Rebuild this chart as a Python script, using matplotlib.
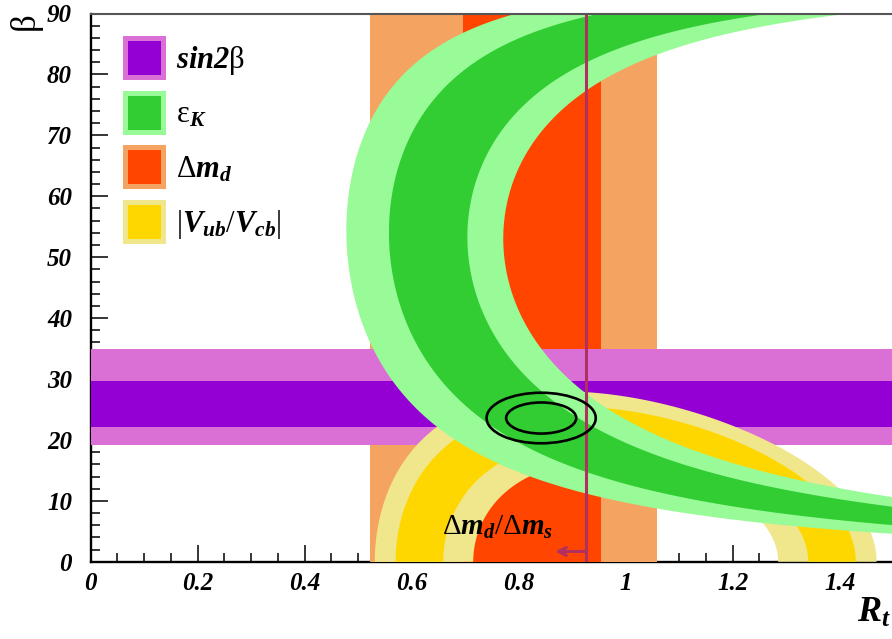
import numpy as np
import matplotlib.pyplot as plt
from matplotlib.patches import Rectangle, Ellipse
from matplotlib.ticker import MultipleLocator, FuncFormatter

plt.rcParams['mathtext.fontset'] = 'custom'
plt.rcParams['mathtext.rm'] = 'Liberation Serif'
plt.rcParams['mathtext.it'] = 'Liberation Serif:italic:bold'
plt.rcParams['mathtext.bf'] = 'Liberation Serif:bold'
plt.rcParams['mathtext.sf'] = 'Liberation Serif:italic:bold'

# constraint bands in the (R_t, beta) plane
dmd_outer = [0.522, 1.058]       # Delta m_d, R_t range
dmd_inner = [0.696, 0.954]
sin2b_outer = [19.2, 34.95]      # sin2beta, beta range (deg)
sin2b_inner = [22.2, 29.7]
vub_outer = [0.285, 0.469]       # |Vub/Vcb|, R_b range
vub_inner = [0.341, 0.430]
# eps_K boundaries: R_t sin(b) (a R_t cos(b) + 1) = c
epsk_c = [0.796, 0.952, 1.270, 1.419]
epsk_a = [3.77, 3.39, 2.97, 2.81]
dms_limit = 0.926                # Delta m_d / Delta m_s upper limit on R_t
fit_center = [0.842, 23.6]
fit_halfwidth = [0.102, 0.0655]
fit_halfheight = [4.15, 2.55]

legend_labels = [r'$\mathsf{sin2}\mathrm{\beta}$', r'$\mathrm{\varepsilon}_K$',
                 r'$\mathrm{\Delta}m_d$', r'$|V_{ub}/V_{cb}|$']
legend_colors = [('#da70d6', '#9400d3'), ('#98fb98', '#32cd32'),
                 ('#f4a460', '#ff4500'), ('#f0e68c', '#ffd700')]

maroon = '#b03060'
serif = 'Liberation Serif'

fig = plt.figure(figsize=(8.92, 6.39), dpi=100)
ax = fig.add_axes([90.7 / 892, 77.2 / 639, 802.5 / 892, 548.3 / 639])
ax.set_xlim(0, 1.5)
ax.set_ylim(0, 90)


def axfrac(xp, yp):
    # pixel position in the image -> axes fraction
    return (xp - 90.7) / 802.5, (561.8 - yp) / 548.3


def epsk_rt(beta, a, c):
    s = np.sin(np.radians(beta))
    k = a * s * np.cos(np.radians(beta))
    return 2 * c / (s + np.sqrt(s ** 2 + 4 * k * c))


def ring(r_lo, r_hi):
    th = np.linspace(0, np.pi, 400)
    rho = np.concatenate([r_hi * np.cos(th), r_lo * np.cos(th[::-1])])
    eta = np.concatenate([r_hi * np.sin(th), r_lo * np.sin(th[::-1])])
    rt = np.hypot(1 - rho, eta)
    beta = np.degrees(np.arctan2(eta, 1 - rho))
    return rt, beta


# Delta m_d
ax.axvspan(*dmd_outer, color=legend_colors[2][0], lw=0)
ax.axvspan(*dmd_inner, color=legend_colors[2][1], lw=0)
# sin2beta
ax.axhspan(*sin2b_outer, color=legend_colors[0][0], lw=0)
ax.axhspan(*sin2b_inner, color=legend_colors[0][1], lw=0)
# |Vub/Vcb|
ax.fill(*ring(*vub_outer), color=legend_colors[3][0], lw=0)
ax.fill(*ring(*vub_inner), color=legend_colors[3][1], lw=0)
# eps_K
bb = np.linspace(0.2, 90, 800)
ax.fill_betweenx(bb, epsk_rt(bb, epsk_a[0], epsk_c[0]), epsk_rt(bb, epsk_a[3], epsk_c[3]),
                 color=legend_colors[1][0], lw=0)
ax.fill_betweenx(bb, epsk_rt(bb, epsk_a[1], epsk_c[1]), epsk_rt(bb, epsk_a[2], epsk_c[2]),
                 color=legend_colors[1][1], lw=0)

# Delta m_d / Delta m_s limit
ax.axvline(dms_limit, color=maroon, lw=2.2, zorder=3)
ax.annotate('', xy=(dms_limit - 0.058, 1.7), xytext=(dms_limit, 1.7),
            arrowprops=dict(arrowstyle='->', color=maroon, lw=2.2,
                            shrinkA=0, shrinkB=0, mutation_scale=14), zorder=3)
ax.text(dms_limit - 0.062, 4.4, r'$\mathrm{\Delta}m_d/\mathrm{\Delta}m_s$',
        fontsize=21, ha='right', va='baseline', zorder=4)

# fit contours
for hw, hh in zip(fit_halfwidth, fit_halfheight):
    ax.add_patch(Ellipse(fit_center, 2 * hw, 2 * hh, fill=False,
                         ec='black', lw=1.9, zorder=4))

# legend boxes
for i, (lab, (c_out, c_in)) in enumerate(zip(legend_labels, legend_colors)):
    top = 36 + 54.7 * i
    x0, y0 = axfrac(123, top + 44)
    x1, y1 = axfrac(166, top)
    ax.add_patch(Rectangle((x0, y0), x1 - x0, y1 - y0, transform=ax.transAxes,
                           color=c_out, lw=0, zorder=5))
    xi0, yi0 = axfrac(128, top + 39)
    xi1, yi1 = axfrac(161, top + 5)
    ax.add_patch(Rectangle((xi0, yi0), xi1 - xi0, yi1 - yi0, transform=ax.transAxes,
                           color=c_in, lw=0, zorder=6))
    tx, ty = axfrac(176, top + 22 + 10)
    ax.text(tx, ty, lab, transform=ax.transAxes, fontsize=22,
            ha='left', va='baseline', zorder=6)

# axes styling
ax.set_axisbelow(True)
for side in ['left', 'bottom']:
    ax.spines[side].set_linewidth(1.7)
    ax.spines[side].set_zorder(0.5)
ax.spines['top'].set_color('#555555')
ax.spines['top'].set_linewidth(1.5)
ax.spines['top'].set_zorder(5)
ax.spines['right'].set_visible(False)

ax.xaxis.set_major_locator(MultipleLocator(0.2))
ax.xaxis.set_minor_locator(MultipleLocator(0.05))
ax.yaxis.set_major_locator(MultipleLocator(10))
ax.yaxis.set_minor_locator(MultipleLocator(2))
ax.xaxis.set_major_formatter(FuncFormatter(lambda v, p: '%g' % round(v, 2)))
ax.tick_params(which='both', direction='in', top=False, right=False, width=1.1)
ax.tick_params(which='major', length=12.5)
ax.tick_params(which='minor', length=6.5)
ax.tick_params(axis='y', pad=13.5)
ax.tick_params(axis='x', pad=7)
for lab in ax.get_xticklabels() + ax.get_yticklabels():
    lab.set_fontfamily(serif)
    lab.set_fontweight('bold')
    lab.set_fontstyle('italic')
    lab.set_fontsize(18)

fig.text(28 / 892, 1 - 24 / 639, r'$\mathrm{\beta}$', fontsize=25, rotation=90,
         ha='center', va='center')
fig.text(857 / 892, 1 - 622 / 639, r'$R_t$', fontsize=26, ha='left', va='baseline')

fig.savefig('out.png', dpi=100)
